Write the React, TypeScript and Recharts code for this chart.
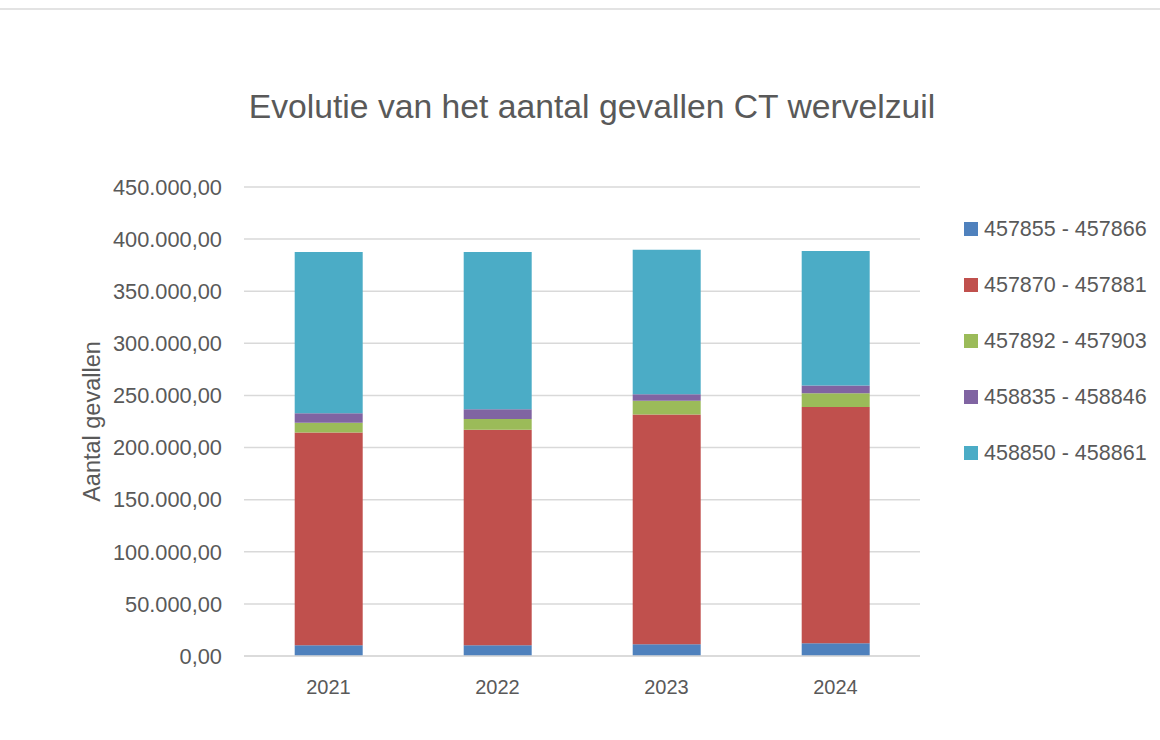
import { BarChart, Bar, XAxis, YAxis, CartesianGrid } from 'recharts';

const years = ['2021', '2022', '2023', '2024'];
const seriesNames = ['457855 - 457866', '457870 - 457881', '457892 - 457903', '458835 - 458846', '458850 - 458861'];
const colors = ['#4F81BD', '#C0504D', '#9BBB59', '#8064A2', '#4BACC6'];

// one array per series, one value per year
const s457855 = [10300, 10300, 11200, 12200];
const s457870 = [204100, 206700, 220500, 226600];
const s457892 = [9300, 10500, 13100, 13400];
const s458835 = [9300, 9300, 6400, 7300];
const s458850 = [154600, 150800, 138600, 129000];

const yTicks = [0, 50000, 100000, 150000, 200000, 250000, 300000, 350000, 400000, 450000];

const seriesValues = [s457855, s457870, s457892, s458835, s458850];
const data = years.map((year, i) => {
  const row: Record<string, string | number> = { year };
  seriesNames.forEach((name, k) => {
    row[name] = seriesValues[k][i];
  });
  return row;
});

// Dutch number format: 450.000,00
const fmt = (v: number) =>
  String(Math.round(v)).replace(/\B(?=(\d{3})+(?!\d))/g, '.') + ',00';

const FONT = '"Liberation Sans", Arial, sans-serif';
const TEXT = '#595959';

export default function App() {
  return (
    <div style={{ position: 'absolute', left: 0, top: 0, width: 1160, height: 740, background: '#fff', fontFamily: FONT }}>
      <div style={{ position: 'absolute', left: 0, top: 8, width: 1160, height: 2, background: '#e3e3e3' }} />
      <div
        style={{
          position: 'absolute', left: 0, top: 89, width: 1184, textAlign: 'center',
          fontSize: 33.7, lineHeight: '34px', color: TEXT,
        }}
      >
        Evolutie van het aantal gevallen CT wervelzuil
      </div>

      <BarChart
        width={1160}
        height={740}
        data={data}
        margin={{ top: 187, right: 240, bottom: 54, left: 0 }}
        barCategoryGap="30%"
      >
        <CartesianGrid vertical={false} stroke="#d9d9d9" strokeWidth={1.5} />
        <XAxis
          dataKey="year"
          height={30}
          axisLine={{ stroke: '#d9d9d9', strokeWidth: 1.5 }}
          tickLine={false}
          tickSize={0}
          tickMargin={24}
          tick={{ fill: TEXT, fontSize: 20, fontFamily: FONT }}
        />
        <YAxis
          width={244}
          domain={[0, 450000]}
          ticks={yTicks}
          interval={0}
          axisLine={false}
          tickLine={false}
          tickSize={0}
          tickMargin={22}
          tickFormatter={fmt}
          tick={{ fill: TEXT, fontSize: 21.8, fontFamily: FONT }}
          label={{
            value: 'Aantal gevallen',
            angle: -90,
            position: 'insideLeft',
            offset: 92,
            style: { textAnchor: 'middle', fill: TEXT, fontSize: 23.5, fontFamily: FONT },
          }}
        />
        {seriesNames.map((name, k) => (
          <Bar key={name} dataKey={name} stackId="a" fill={colors[k]} isAnimationActive={false} />
        ))}
      </BarChart>

      <div style={{ position: 'absolute', left: 964, top: 201 }}>
        {seriesNames.map((name, k) => (
          <div key={name} style={{ display: 'flex', alignItems: 'center', height: 56 }}>
            <div style={{ width: 14, height: 14, background: colors[k], marginRight: 6 }} />
            <span style={{ fontSize: 21.5, color: TEXT, whiteSpace: 'nowrap' }}>{name}</span>
          </div>
        ))}
      </div>
    </div>
  );
}
